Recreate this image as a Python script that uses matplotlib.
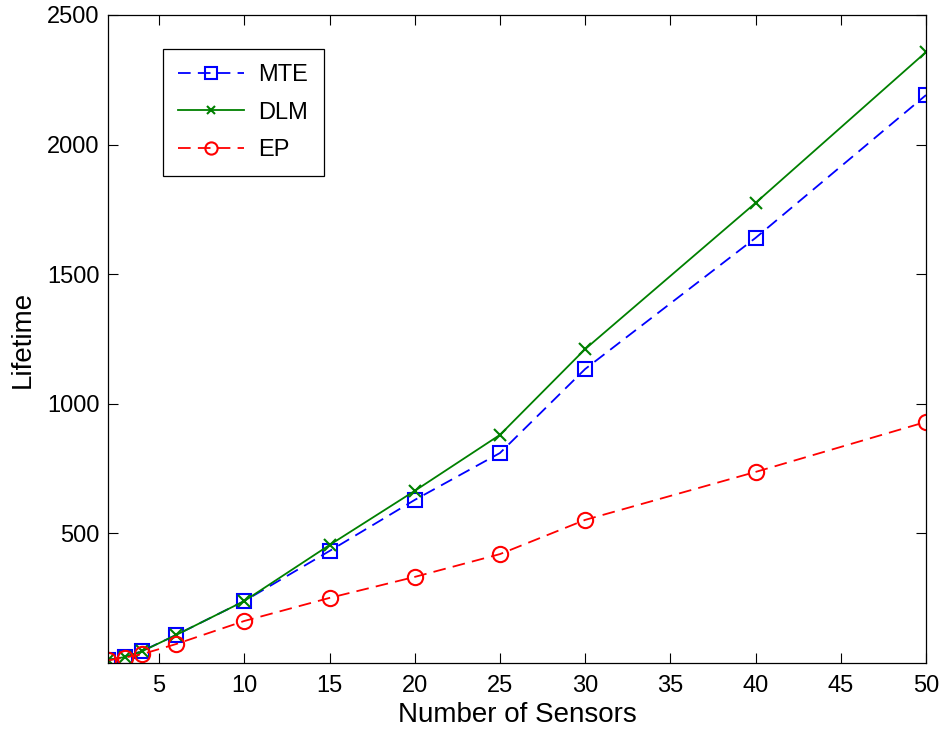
import matplotlib
matplotlib.use('Agg')
import matplotlib.pyplot as plt

plt.rcParams['font.family'] = ['Liberation Sans', 'DejaVu Sans']

sensors = [2, 3, 4, 6, 10, 15, 20, 25, 30, 40, 50]
mte = [12, 23, 46, 108, 239, 432, 629, 810, 1134, 1640, 2191]
dlm = [12, 23, 45, 108, 239, 455, 664, 880, 1211, 1775, 2357]
ep = [10, 21, 34, 73, 162, 251, 332, 420, 552, 737, 930]

x_ticks = [5, 10, 15, 20, 25, 30, 35, 40, 45, 50]
y_ticks = [500, 1000, 1500, 2000, 2500]

fig = plt.figure(figsize=(9.42, 7.35), dpi=100)
ax = fig.add_axes([0.1146, 0.098, 0.8684, 0.8816])

ax.plot(sensors, mte, '--s', color='#0000ff', lw=1.3, ms=10, mfc='none', mew=1.5,
        dashes=(7, 4), label='MTE')
ax.plot(sensors, dlm, '-x', color='#008000', lw=1.3, ms=8, mew=1.5, label='DLM')
ax.plot(sensors, ep, '--o', color='#ff0000', lw=1.3, ms=11, mfc='none', mew=1.5,
        dashes=(7, 4), label='EP')

ax.set_xlim(2, 50)
ax.set_ylim(0, 2500)
ax.set_xticks(x_ticks)
ax.set_yticks(y_ticks)
ax.tick_params(direction='in', top=True, right=True, labelsize=17, length=7, width=0.8)
ax.tick_params(axis='x', pad=9)
ax.tick_params(axis='y', pad=6)
for s in ax.spines.values():
    s.set_linewidth(0.9)

ax.set_xlabel('Number of Sensors', fontsize=20, labelpad=3)
ax.set_ylabel('Lifetime', fontsize=20, labelpad=8)

leg = ax.legend(loc='upper left', bbox_to_anchor=(0.067, 0.9475), borderaxespad=0,
                fontsize=17, handlelength=2.8, fancybox=False, edgecolor='black',
                framealpha=1, labelspacing=0.65, borderpad=0.65, markerscale=0.8,
                handletextpad=0.6)
leg.get_frame().set_linewidth(0.9)

fig.savefig('out.png', dpi=100)
